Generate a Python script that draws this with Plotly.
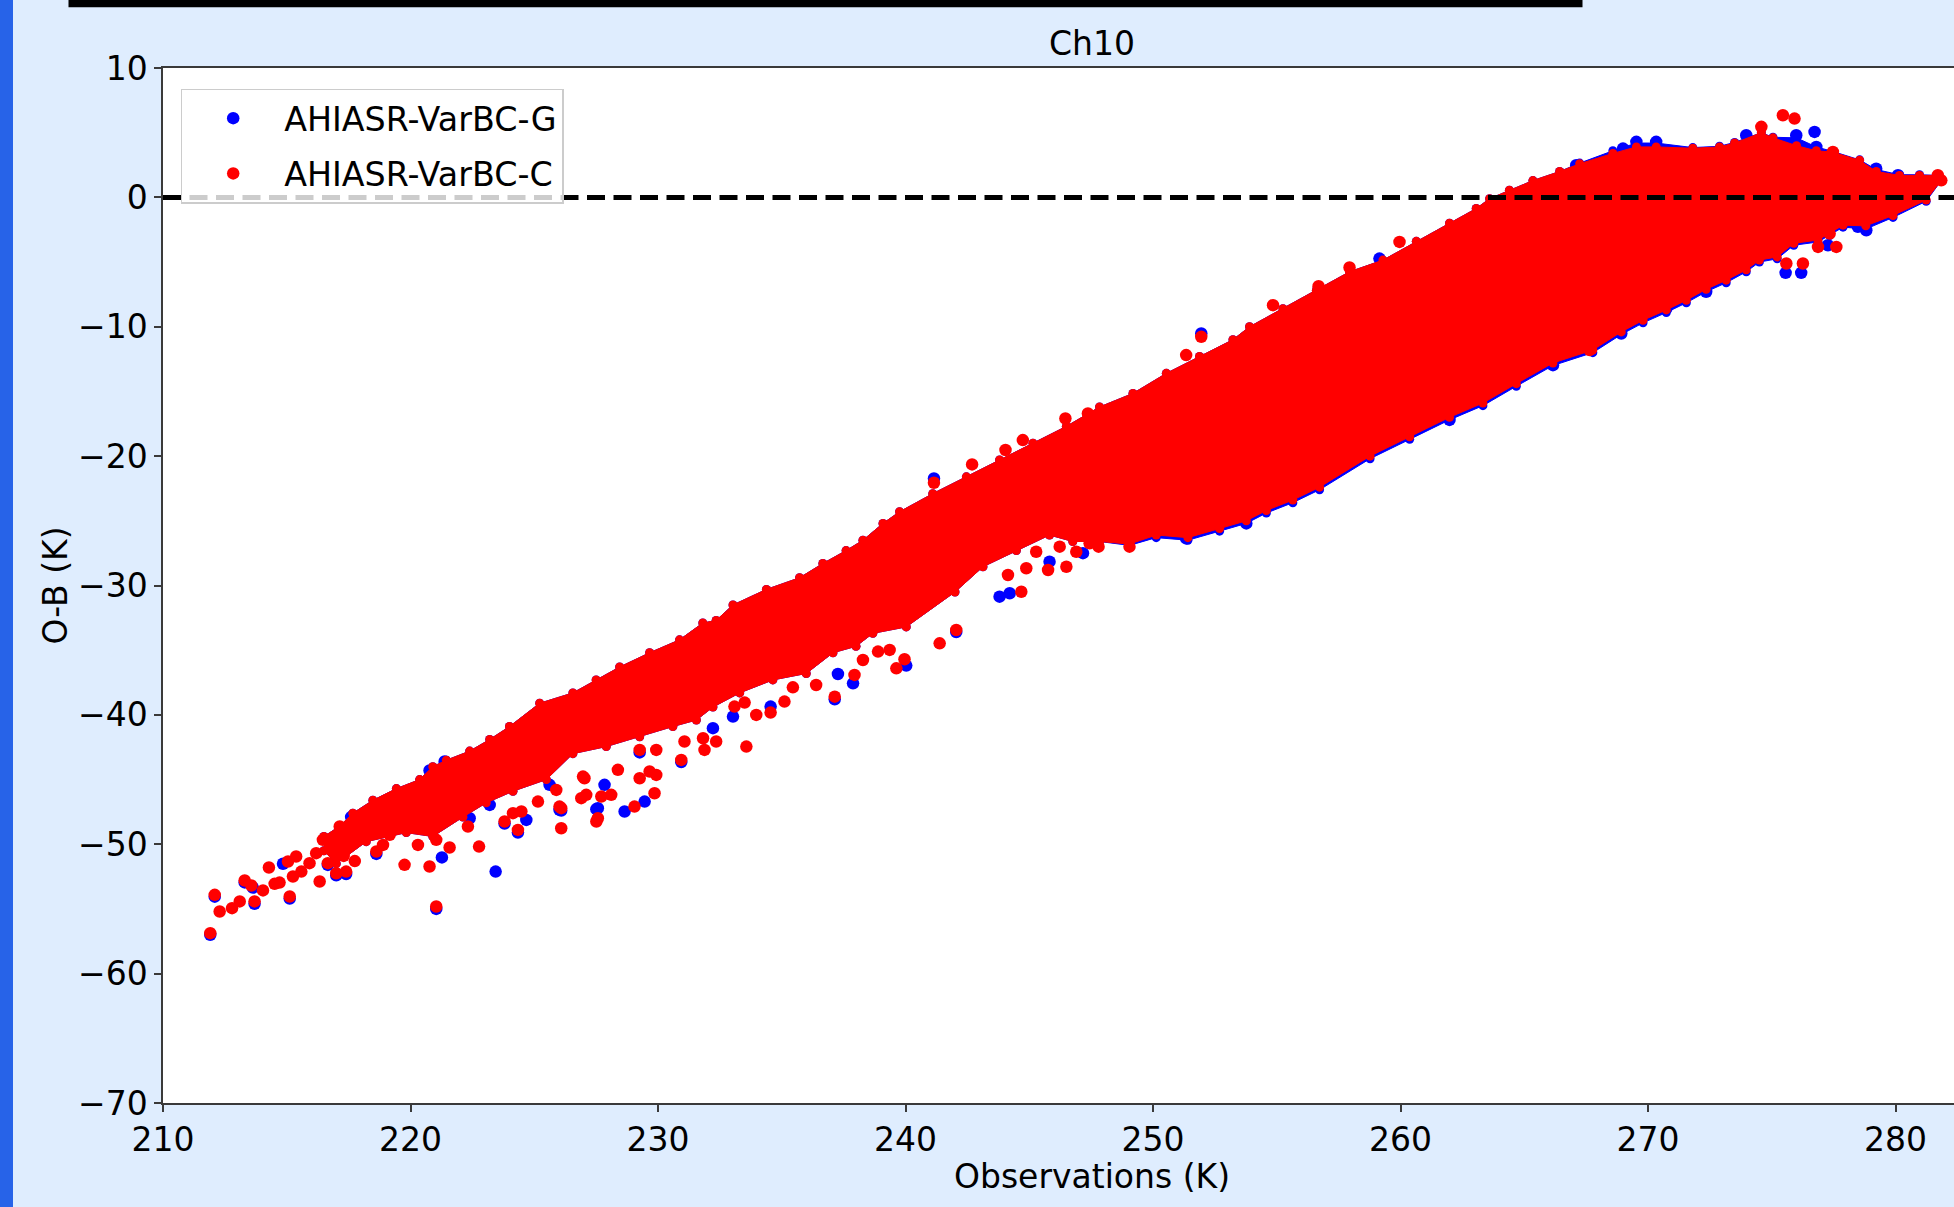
import plotly.graph_objects as go

# ------------------------------------------------------------------ data
X_TICKS = [210, 220, 230, 240, 250, 260, 270, 280]
X_TICK_TEXT = ["210", "220", "230", "240", "250", "260", "270", "280"]
Y_TICKS = [-70, -60, -50, -40, -30, -20, -10, 0, 10]
Y_TICK_TEXT = ["\u221270", "\u221260", "\u221250", "\u221240", "\u221230",
               "\u221220", "\u221210", "0", "10"]

SERIES_NAMES = ["AHIASR-VarBC-G", "AHIASR-VarBC-C"]

# dense part of the C (red) cloud: upper edge (left -> right)
c_upper_x = [216.5, 217.14, 217.67, 218.48, 219.43, 220.37, 220.9, 221.45, 222.39, 223.2,
             224.0, 225.22, 226.56, 227.5, 228.45, 229.66, 230.87, 231.81, 232.35, 233.03,
             234.38, 235.72, 236.66, 237.6, 238.28, 239.09, 239.76, 241.1, 242.46, 243.8,
             245.15, 246.5, 247.84, 249.19, 250.54, 251.88, 253.23, 253.9, 255.25, 256.6,
             257.94, 259.29, 260.64, 261.98, 263.06, 263.6, 264.4, 265.35, 266.43, 267.24,
             268.58, 269.53, 270.33, 271.81, 272.89, 273.5, 274.58, 275.05, 276.0, 276.8,
             277.47, 278.55, 279.22, 280.16, 280.97, 281.71, 281.85]
c_upper_y = [-49.4, -48.6, -47.6, -46.6, -45.7, -45.0, -44.0, -43.5, -42.8, -41.9,
             -40.9, -39.1, -38.3, -37.3, -36.3, -35.2, -34.2, -32.9, -32.7, -31.5,
             -30.3, -29.4, -28.3, -27.3, -26.5, -25.2, -24.3, -22.9, -21.6, -20.3,
             -19.0, -17.7, -16.2, -15.15, -13.6, -12.3, -11.0, -10.0, -8.6, -7.2,
             -5.75, -4.85, -3.4, -2.0, -0.86, -0.1, 0.55, 1.3, 2.0, 2.6,
             3.4, 3.9, 3.9, 3.8, 3.9, 4.2, 5.0, 4.6, 4.0, 3.6,
             3.5, 2.87, 2.0, 1.7, 1.7, 1.7, 1.3]
# lower edge (right -> left)
c_lower_x = [281.24, 279.9, 278.8, 277.88, 277.34, 276.87, 275.89, 275.22, 274.5, 273.97,
             273.16, 272.35, 271.55, 270.74, 269.8, 268.92, 267.77, 266.16, 264.68, 263.33,
             261.98, 260.37, 258.77, 256.73, 255.65, 254.58, 253.77, 252.69, 251.41, 250.13,
             249.05, 247.84, 246.76, 245.82, 244.48, 243.13, 242.0, 240.03, 238.68, 238.0,
             237.07, 235.99, 234.64, 233.3, 232.22, 231.55, 230.6, 229.26, 227.91, 226.56,
             225.49, 224.14, 223.06, 222.12, 220.9, 219.83, 218.21, 217.0, 216.5]
c_lower_y = [-0.2, -1.4, -2.2, -2.15, -2.8, -3.3, -3.55, -4.6, -4.85, -5.6,
             -6.4, -7.1, -7.95, -8.7, -9.5, -10.4, -11.8, -12.8, -14.4, -15.9,
             -17.0, -18.5, -20.0, -22.4, -23.4, -24.2, -25.0, -25.6, -26.3, -26.1,
             -26.8, -26.6, -26.6, -26.1, -27.3, -28.55, -30.5, -33.2, -33.7, -34.7,
             -35.2, -36.8, -37.3, -38.3, -39.4, -40.4, -40.9, -41.7, -42.45, -43.0,
             -45.0, -45.9, -46.8, -47.9, -49.4, -49.1, -49.8, -51.5, -50.5]

# dense part of the G (blue) cloud
g_upper_x = c_upper_x
g_upper_y = [-49.4, -48.6, -47.6, -46.6, -45.7, -45.0, -44.0, -43.5, -42.8, -41.9,
             -40.9, -39.1, -38.3, -37.3, -36.3, -35.2, -34.2, -32.9, -32.7, -31.5,
             -30.3, -29.4, -28.3, -27.3, -26.5, -25.2, -24.3, -22.9, -21.6, -20.3,
             -19.0, -17.7, -16.2, -15.15, -13.6, -12.3, -11.0, -10.0, -8.6, -7.2,
             -5.75, -4.85, -3.4, -2.0, -0.86, -0.1, 0.55, 1.3, 2.0, 2.65,
             3.6, 4.2, 4.2, 3.85, 3.95, 4.25, 5.0, 4.65, 4.6, 3.9,
             3.55, 2.9, 2.15, 1.75, 1.75, 1.7, 1.3]
g_lower_x = c_lower_x
g_lower_y = [-0.3, -1.55, -2.45, -2.3, -2.95, -3.45, -3.7, -4.75, -5.0, -5.75,
             -6.6, -7.3, -8.15, -8.9, -9.7, -10.6, -12.0, -13.0, -14.6, -16.1,
             -17.2, -18.7, -20.2, -22.6, -23.6, -24.4, -25.2, -25.8, -26.5, -26.3,
             -26.9, -26.6, -26.6, -26.1, -27.3, -28.55, -30.5, -33.2, -33.7, -34.7,
             -35.2, -36.8, -37.3, -38.3, -39.4, -40.4, -40.9, -41.7, -42.45, -43.0,
             -45.0, -45.9, -46.8, -47.9, -49.4, -49.1, -49.8, -51.5, -50.5]

# scattered individual G observations
g_pts_x = [211.91, 212.09, 213.30, 213.63, 213.70, 214.85, 215.12, 216.66, 217.0, 217.40,
           217.6, 218.62, 220.77, 221.38, 221.04, 221.27, 222.39, 223.20, 223.44, 223.80,
           224.34, 224.68, 225.62, 226.09, 227.51, 226.02, 227.57, 227.84, 228.65, 229.26,
           229.46, 230.94, 232.22, 233.03, 234.55, 237.14, 237.27, 237.88, 240.03, 242.05,
           241.15, 243.80, 244.21, 245.82, 247.17, 251.34, 251.95, 253.77, 259.15, 261.98,
           266.16, 268.92, 270.74, 267.1, 268.99, 269.53, 270.33, 272.35, 273.97, 275.56,
           275.99, 276.19, 276.73, 276.8, 277.27, 278.48, 278.82, 279.22, 280.1]
g_pts_y = [-57.0, -54.05, -52.95, -53.35, -54.6, -51.51, -54.2, -51.6, -52.4, -52.3,
           -47.9, -50.75, -44.3, -43.6, -55.0, -51.02, -47.99, -46.96, -52.11, -48.4,
           -49.1, -48.12, -45.41, -47.4, -47.29, -47.34, -47.21, -45.41, -47.47, -42.9,
           -46.7, -43.65, -41.03, -40.13, -39.36, -38.8, -36.84, -37.56, -36.19, -33.6,
           -21.72, -30.86, -30.6, -28.16, -27.5, -26.36, -10.52, -25.2, -4.73, -17.2,
           -12.97, -10.52, -8.59, 2.48, 3.77, 4.29, 4.29, -7.3, 4.8, -5.83,
           4.8, -5.83, 5.06, 3.9, -3.7, -2.28, -2.54, 2.22, 1.71]

# scattered individual C observations
c_pts_x = [211.91, 212.09, 212.29, 212.79, 213.10, 213.30, 213.57, 213.70, 214.04, 214.28,
           214.51, 214.71, 215.05, 215.12, 215.25, 215.38, 215.59, 215.92, 216.19, 216.33,
           216.46, 216.66, 217.00, 217.40, 217.14, 216.8, 217.3, 217.75,
           218.62, 218.89, 219.16, 219.76, 220.30, 220.77, 221.04, 221.04, 221.58, 222.32,
           222.77, 223.80, 224.14, 224.48, 224.34, 225.15, 226.09, 226.09, 226.90, 227.51,
           227.03, 225.89, 226.02, 226.97, 227.10, 227.57, 227.71, 228.11, 228.38, 229.05,
           229.26, 229.26, 229.66, 229.86, 229.93, 229.93, 230.94, 231.07, 231.82, 231.88,
           232.35, 233.09, 233.50, 233.57, 233.97, 234.55, 235.11, 235.45, 236.39, 237.14,
           237.94, 238.28, 238.89, 239.36, 239.63, 239.96, 241.38, 242.05,
           241.15, 242.69, 244.04, 244.74, 246.46, 247.37, 251.34, 251.95, 244.14, 244.68,
           244.88, 245.28, 245.76, 246.23, 246.5, 246.9, 247.44, 247.8, 249.05,
           254.85, 256.69, 257.94, 259.96, 267.64,
           274.58, 275.45, 275.92, 277.47, 275.59, 276.26, 276.87, 277.61, 277.34, 281.71,
           281.85]
c_pts_y = [-56.87, -53.91, -55.20, -54.94, -54.42, -52.80, -53.19, -54.42, -53.57, -51.80,
           -53.06, -52.96, -51.33, -54.04, -52.49, -50.95, -52.11, -51.46, -50.69, -52.88,
           -49.66, -51.46, -52.24, -52.11, -48.63, -50.3, -50.9, -51.3,
           -50.56, -50.05, -49.27, -51.59, -50.05, -51.72, -54.81, -49.66, -50.25, -48.63,
           -50.18, -48.24, -47.60, -47.47, -48.89, -46.70, -48.76, -47.21, -46.44, -48.24,
           -44.90, -45.80, -47.09, -44.77, -46.18, -47.99, -46.31, -46.18, -44.25, -47.09,
           -44.90, -42.71, -44.38, -46.06, -44.64, -42.71, -43.48, -42.06, -41.81, -42.71,
           -42.06, -39.36, -39.05, -42.45, -40.0, -39.82, -38.97, -37.87, -37.69, -38.59,
           -36.91, -35.76, -35.11, -34.98, -36.40, -35.70, -34.47, -33.44,
           -22.06, -20.64, -19.53, -18.76, -17.09, -16.7, -12.19, -10.78, -29.19, -30.48,
           -28.67, -27.39, -28.8, -27.0, -28.55, -27.39, -26.74, -27.0, -27.0,
           -8.33, -6.86, -5.42, -3.44, -11.8,
           5.45, 6.35, 6.09, 3.51, -5.11, -5.11, -3.83, -3.83, -2.8, 1.71,
           1.32]

ZERO_LINE_Y = 0

# ------------------------------------------------------------------ layout constants
W, H = 1954, 1207
ML, MR, MT, MB = 163, 0, 68, 104
PW, PH = W - ML - MR, H - MT - MB
PX_PER_K = 24.75
X_RANGE = [210, 210 + PW / PX_PER_K]
Y_RANGE = [-70, 10]

BLUE = "#0000ff"
RED = "#ff0000"
FONT = "DejaVu Sans"
FS = 33
AXIS_COL = "#3a3a3a"


def px_x(px):
    return (px - ML) / PW


def px_y(py):
    return (MT + PH - py) / PH


fig = go.Figure()

# G cloud
fig.add_trace(go.Scatter(
    x=list(g_upper_x) + list(g_lower_x), y=list(g_upper_y) + list(g_lower_y),
    mode="lines+markers", fill="toself", fillcolor=BLUE, line=dict(color=BLUE, width=1),
    marker=dict(color=BLUE, size=9, line=dict(width=0)),
    showlegend=False, hoverinfo="skip", legendgroup="G"))
fig.add_trace(go.Scatter(
    x=g_pts_x, y=g_pts_y, mode="markers", name=SERIES_NAMES[0], legendgroup="G",
    marker=dict(color=BLUE, size=12.5, line=dict(width=0))))

# C cloud (drawn on top)
fig.add_trace(go.Scatter(
    x=list(c_upper_x) + list(c_lower_x), y=list(c_upper_y) + list(c_lower_y),
    mode="lines+markers", fill="toself", fillcolor=RED, line=dict(color=RED, width=1),
    marker=dict(color=RED, size=9, line=dict(width=0)),
    showlegend=False, hoverinfo="skip", legendgroup="C"))
fig.add_trace(go.Scatter(
    x=c_pts_x, y=c_pts_y, mode="markers", name=SERIES_NAMES[1], legendgroup="C",
    marker=dict(color=RED, size=12.5, line=dict(width=0))))

shapes = [
    # left blue strip of the page
    dict(type="rect", xref="paper", yref="paper", x0=px_x(0), x1=px_x(13),
         y0=px_y(H), y1=px_y(0), fillcolor="#2763e8", line=dict(width=0), layer="below"),
    # black bar at top
    dict(type="rect", xref="paper", yref="paper", x0=px_x(68.5), x1=px_x(1582.5),
         y0=px_y(7.3), y1=px_y(0), fillcolor="#000000", line=dict(width=0), layer="above"),
    # zero reference line
    dict(type="line", xref="paper", yref="y", x0=0, x1=1, y0=ZERO_LINE_Y, y1=ZERO_LINE_Y,
         line=dict(color="#000000", width=5, dash="18px,8.5px"), layer="above"),
]

fig.update_layout(
    width=W, height=H,
    margin=dict(l=ML, r=MR, t=MT, b=MB, pad=0),
    paper_bgcolor="#dfedfe",
    plot_bgcolor="#ffffff",
    font=dict(family=FONT, size=FS, color="#000000"),
    shapes=shapes,
    showlegend=True,
    legend=dict(
        x=px_x(180.7), y=px_y(88.5), xanchor="left", yanchor="top",
        bgcolor="rgba(255,255,255,0.8)", bordercolor="#cccccc", borderwidth=1.5,
        font=dict(family=FONT, size=33.3, color="#000000"),
        itemwidth=92, traceorder="grouped", tracegroupgap=9,
    ),
    annotations=[
        dict(text="Ch10", xref="paper", yref="paper", x=px_x(1091.5), y=px_y(43.6),
             xanchor="center", yanchor="middle", showarrow=False,
             font=dict(family=FONT, size=FS, color="#000000")),
        dict(text="Observations (K)", xref="paper", yref="paper", x=px_x(1091.5),
             y=px_y(1176), xanchor="center", yanchor="middle", showarrow=False,
             font=dict(family=FONT, size=FS, color="#000000")),
    ],
    xaxis=dict(
        range=X_RANGE, tickmode="array", tickvals=X_TICKS, ticktext=X_TICK_TEXT,
        showgrid=False, zeroline=False, showline=True, linecolor=AXIS_COL, linewidth=1.5,
        mirror=True, ticks="outside", ticklen=7, tickwidth=1.5, tickcolor=AXIS_COL,
        tickfont=dict(family=FONT, size=FS, color="#000000"),
    ),
    yaxis=dict(
        range=Y_RANGE, tickmode="array", tickvals=Y_TICKS, ticktext=Y_TICK_TEXT,
        showgrid=False, zeroline=False, showline=True, linecolor=AXIS_COL, linewidth=1.5,
        mirror=False, ticks="outside", ticklen=7, tickwidth=1.5, tickcolor=AXIS_COL,
        tickfont=dict(family=FONT, size=FS, color="#000000"),
        title=dict(text="O-B (K)", standoff=0,
                   font=dict(family=FONT, size=FS, color="#000000")),
    ),
)

fig.write_html(
    "out.html",
    config={"displayModeBar": False},
    post_script="document.body.style.margin='0';document.body.style.overflow='hidden';",
)
